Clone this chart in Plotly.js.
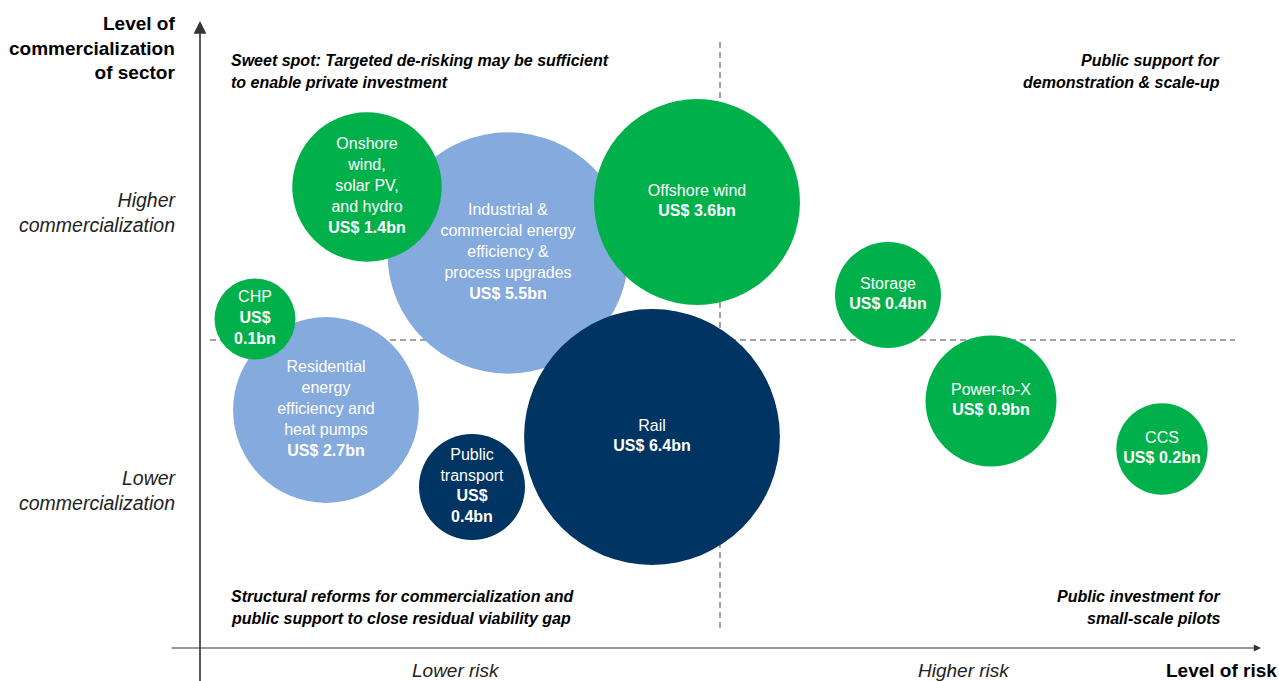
<!DOCTYPE html>
<html>
<head>
<meta charset="utf-8">
<script src="https://cdn.plot.ly/plotly-3.0.1.min.js"></script>
<style>html,body{margin:0;padding:0;background:#fff;}#chart{width:1279px;height:681px;}</style>
</head>
<body>
<div id="chart"></div>
<script>
// ---- Data (risk: 0 = axis, commercialization: 0 = axis) ----
const sectors = ["Industrial & commercial energy efficiency & process upgrades", "Residential energy efficiency and heat pumps", "Rail", "Public transport", "Onshore wind, solar PV, and hydro", "Offshore wind", "CHP", "Storage", "Power-to-X", "CCS"];
const labels = [
  "Industrial &<br>commercial energy<br>efficiency &<br>process upgrades<br><b>US$ 5.5bn</b>",
  "Residential<br>energy<br>efficiency and<br>heat pumps<br><b>US$ 2.7bn</b>",
  "Rail<br><b>US$ 6.4bn</b>",
  "Public<br>transport<br><b>US$<br>0.4bn</b>",
  "Onshore<br>wind,<br>solar PV,<br>and hydro<br><b>US$ 1.4bn</b>",
  "Offshore wind<br><b>US$ 3.6bn</b>",
  "CHP<br><b>US$<br>0.1bn</b>",
  "Storage<br><b>US$ 0.4bn</b>",
  "Power-to-X<br><b>US$ 0.9bn</b>",
  "CCS<br><b>US$ 0.2bn</b>"
];
const group = ["efficiency", "efficiency", "transport", "transport", "renewables", "renewables", "renewables", "renewables", "renewables", "renewables"];
const investmentBn = [5.5, 2.7, 6.4, 0.4, 1.4, 3.6, 0.1, 0.4, 0.9, 0.2];
const risk = [3.08, 1.26, 4.52, 2.72, 1.67, 4.97, 0.55, 6.88, 7.91, 9.62];
const commercialization = [3.95, 2.38, 2.11, 1.61, 4.61, 4.46, 3.29, 3.53, 2.47, 1.99];
const riskDivider = 5.2;
const commDivider = 3.08;

const groupColors = {efficiency: "#85AADD", transport: "#003462", renewables: "#00B14B"};
const groupOrder = ["efficiency", "transport", "renewables"];

function bubbleDiameter(v) { return 56 + 79 * Math.sqrt(v); }

const FONT = "'Liberation Sans', Arial, sans-serif";
const traces = groupOrder.map(g => {
  const idx = group.map((v, i) => v === g ? i : -1).filter(i => i >= 0);
  return {
    type: "scatter",
    mode: "markers+text",
    x: idx.map(i => risk[i]),
    y: idx.map(i => commercialization[i]),
    text: idx.map(i => labels[i]),
    hovertext: idx.map(i => sectors[i]),
    textposition: "middle center",
    textfont: {family: FONT, size: 16, color: "#ffffff"},
    marker: {size: idx.map(i => bubbleDiameter(investmentBn[i])), sizemode: "diameter", color: groupColors[g], opacity: 1, line: {width: 0}},
    hoverinfo: "text",
    showlegend: false,
    cliponaxis: false
  };
});

const quadrants = [
  {lines: ["Sweet spot: Targeted de-risking may be sufficient", "to enable private investment"], x: 0.29, y: 5.88, align: "left"},
  {lines: ["Public support for", "demonstration & scale-up"], x: 10.22, y: 5.88, align: "right"},
  {lines: ["Structural reforms for commercialization and", "public support to close residual viability gap"], x: 0.29, y: 0.52, align: "left"},
  {lines: ["Public investment for", "small-scale pilots"], x: 10.22, y: 0.52, align: "right"}
];

const annotations = [];
quadrants.forEach(q => {
  q.lines.forEach((ln, k) => {
    annotations.push({x: q.x, y: q.y, xref: "x", yref: "y", text: "<b><i>" + ln + "</i></b>", showarrow: false,
      xanchor: q.align, yanchor: "middle", yshift: -22 * k,
      font: {family: FONT, size: 16, color: "#000"}});
  });
});

// axis arrows
annotations.push({x: 0, y: 6.27, ax: 0, ay: -0.4, xref: "x", yref: "y", axref: "x", ayref: "y", text: "", showarrow: true, arrowhead: 2, arrowsize: 1.6, arrowwidth: 1.6, arrowcolor: "#333", standoff: 0});
annotations.push({x: 10.61, y: 0, ax: -0.3, ay: 0, xref: "x", yref: "y", axref: "x", ayref: "y", text: "", showarrow: true, arrowhead: 2, arrowsize: 1.2, arrowwidth: 1.2, arrowcolor: "#333", standoff: 0});

// axis labels
annotations.push({x: -0.23, y: 6.0, xref: "x", yref: "y", xanchor: "right", yanchor: "middle", align: "right", showarrow: false,
  text: "<b>Level of<br>commercialization<br>of sector</b>", font: {family: FONT, size: 19, color: "#000"}});
annotations.push({x: -0.21, y: 4.355, xref: "x", yref: "y", xanchor: "right", yanchor: "middle", align: "right", showarrow: false,
  text: "<i>Higher<br>commercialization</i>", font: {family: FONT, size: 19.5, color: "#222"}});
annotations.push({x: -0.21, y: 1.575, xref: "x", yref: "y", xanchor: "right", yanchor: "middle", align: "right", showarrow: false,
  text: "<i>Lower<br>commercialization</i>", font: {family: FONT, size: 19.5, color: "#222"}});
annotations.push({x: 2.56, y: -0.225, xref: "x", yref: "y", xanchor: "center", yanchor: "middle", showarrow: false,
  text: "<i>Lower risk</i>", font: {family: FONT, size: 19, color: "#222"}});
annotations.push({x: 7.64, y: -0.225, xref: "x", yref: "y", xanchor: "center", yanchor: "middle", showarrow: false,
  text: "<i>Higher risk</i>", font: {family: FONT, size: 19, color: "#222"}});
annotations.push({x: 10.79, y: -0.225, xref: "x", yref: "y", xanchor: "right", yanchor: "middle", showarrow: false,
  text: "<b>Level of risk</b>", font: {family: FONT, size: 19, color: "#000"}});

const shapes = [
  {type: "line", xref: "x", yref: "y", x0: riskDivider, x1: riskDivider, y0: 0.2, y1: 6.06, line: {color: "#444", width: 1, dash: "6px,4px"}, layer: "below"},
  {type: "line", xref: "x", yref: "y", x0: 0.1, x1: 10.35, y0: commDivider, y1: commDivider, line: {color: "#444", width: 1, dash: "6px,4px"}, layer: "below"}
];

const layout = {
  width: 1279, height: 681,
  margin: {l: 0, r: 0, t: 0, b: 0},
  paper_bgcolor: "#ffffff", plot_bgcolor: "#ffffff",
  xaxis: {range: [-2.0, 10.79], visible: false, fixedrange: true},
  yaxis: {range: [-0.33, 6.48], visible: false, fixedrange: true},
  shapes: shapes,
  annotations: annotations,
  showlegend: false,
  hovermode: "closest"
};

Plotly.newPlot("chart", traces, layout, {displayModeBar: false, staticPlot: true});
</script>
</body>
</html>
